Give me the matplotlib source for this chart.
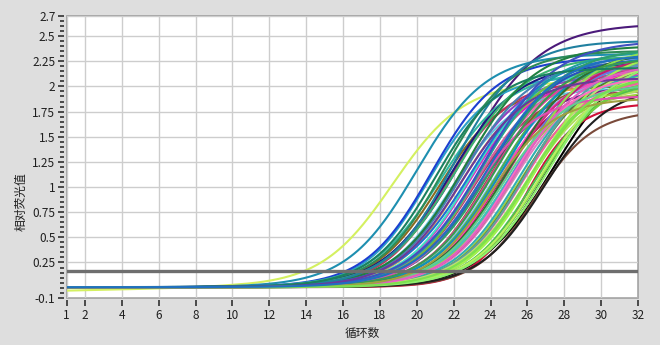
import numpy as np
import matplotlib
matplotlib.use('Agg')
import matplotlib.pyplot as plt
from matplotlib.ticker import MultipleLocator

plt.rcParams['font.family'] = ['Noto Sans CJK SC', 'DejaVu Sans']

# 每条扩增曲线的参数：中点循环数、平台高度、曲线宽度、起始基线
mids = [18.7, 20.0, 22.6, 27.5, 26.9, 25.9, 26.4,
        20.6, 20.8, 21.2, 21.3, 21.5, 21.6, 21.8, 21.9, 22.1, 22.2,
        22.3, 22.5, 22.6, 22.8, 22.9, 23.0, 23.0, 23.2, 23.3, 23.4,
        23.5, 23.6, 23.7, 23.8, 23.9, 24.0, 24.1, 24.1, 24.3, 24.4,
        24.5, 24.6, 24.7, 24.8, 24.9, 25.0, 25.1, 25.2, 25.3, 25.4,
        25.5, 25.6, 25.7, 25.8, 25.9, 26.0, 26.1, 26.2, 26.3, 26.5,
        26.6, 26.7, 26.9, 27.1, 22.0, 23.1, 24.2, 25.0, 23.6, 24.6,
        21.0, 22.4, 25.3, 24.0, 26.0, 23.8]
tops = [2.05, 2.32, 2.62, 2.42, 2.2, 1.83, 1.76,
        2.1, 2.28, 2.0, 2.15, 2.35, 2.05, 2.22, 1.98, 2.3, 2.12,
        2.02, 2.25, 2.4, 2.08, 2.18, 1.95, 2.3, 2.1, 2.22, 2.0,
        2.35, 2.15, 2.05, 2.28, 1.92, 2.2, 2.38, 2.1, 2.0, 2.25,
        2.15, 2.3, 1.98, 2.2, 2.1, 2.35, 2.05, 2.25, 1.95, 2.3,
        2.15, 2.4, 2.08, 2.2, 2.0, 2.3, 2.12, 2.25, 2.05, 2.35,
        2.1, 2.2, 2.0, 2.3, 2.45, 1.9, 2.28, 2.1, 2.45, 2.02,
        2.18, 2.08, 2.22, 1.88, 2.12, 2.32]
widths = [1.95, 1.9, 2.05, 2.05, 1.8, 1.4, 1.6,
          1.7, 1.8, 1.75, 1.9, 1.8, 1.7, 1.85, 1.75, 1.9, 1.8,
          1.7, 1.85, 1.9, 1.75, 1.8, 1.7, 1.95, 1.8, 1.75, 1.85,
          1.9, 1.8, 1.7, 1.85, 1.75, 1.8, 1.95, 1.8, 1.7, 1.85,
          1.8, 1.9, 1.75, 1.8, 1.85, 1.9, 1.75, 1.8, 1.7, 1.85,
          1.8, 1.95, 1.75, 1.8, 1.7, 1.85, 1.8, 1.9, 1.75, 1.85,
          1.8, 1.85, 1.75, 1.9, 1.8, 1.7, 1.85, 1.75, 1.95, 1.8,
          1.75, 1.8, 1.85, 1.7, 1.8, 1.9]
colors = ['#d4f060', '#1e8fb0', '#4b1a7a', '#000000', '#151515', '#d0103a', '#7a4a3a',
          '#2aa0c8', '#1c3fd0', '#8a6a20', '#30b8a0', '#2e8b57', '#c03060', '#1a1a80', '#60c8e0', '#3cb371', '#9040c0',
          '#e0a040', '#4682b4', '#208040', '#e020c0', '#40e0c0', '#a04060', '#1f70d0', '#d060a0', '#70c040', '#5a2a8a',
          '#20a0a0', '#f070b0', '#8b5a2b', '#2850c0', '#c0b060', '#e040a0', '#2e9e6e', '#80c0f0', '#b01050', '#50b050',
          '#ff40c0', '#1090c0', '#9acd32', '#d03080', '#40c0c0', '#307030', '#e080c0', '#6080e0', '#a0d040', '#c02070',
          '#30b0b0', '#90e050', '#f060a0', '#508030', '#b0e060', '#60a0a0', '#80e040', '#c0e070', '#50c050', '#a0f050',
          '#70d040', '#b8f060', '#202020', '#90f070', '#2080a0', '#e050b0', '#3a9a50', '#ff70c0', '#4050c0', '#60d090',
          '#1a8060', '#6a3a9a', '#e060c0', '#a0a040', '#7ce050', '#2070c0']
bases = [-0.03] + [0.005] * (len(mids) - 1)

# 阈值线
threshold = 0.17

yticks = [-0.1, 0.25, 0.5, 0.75, 1, 1.25, 1.5, 1.75, 2, 2.25, 2.5, 2.7]
ylabels = ['-0.1', '0.25', '0.5', '0.75', '1', '1.25', '1.5', '1.75', '2', '2.25', '2.5', '2.7']
xticks = [1, 2, 4, 6, 8, 10, 12, 14, 16, 18, 20, 22, 24, 26, 28, 30, 32]

fig = plt.figure(figsize=(6.6, 3.45), dpi=100, facecolor='#dedede')
ax = fig.add_axes([66.5 / 660, (345 - 297.7) / 345, (638 - 66.5) / 660, (297.7 - 16) / 345])
ax.set_facecolor('white')
ax.patch.set_edgecolor('#a0a0a0')
ax.patch.set_linewidth(1.2)

x = np.linspace(1, 32, 311)
for mid, top, w, c, b in zip(mids, tops, widths, colors, bases):
    drift = b + (0.005 - b) * np.clip((x - 1) / 9, 0, 1)
    y = drift + top / (1 + np.exp(-(x - mid) / w))
    ax.plot(x, y, color=c, linewidth=1.5, solid_capstyle='butt')

ax.axhline(threshold, color='#6e6e6e', linewidth=2.4, zorder=5)

ax.set_xlim(1, 32)
ax.set_ylim(-0.1, 2.7)
ax.set_xticks(xticks)
ax.set_yticks(yticks)
ax.set_yticklabels(ylabels)
ax.yaxis.set_minor_locator(MultipleLocator(0.05))
ax.grid(True, color='#cdcdcd', linewidth=1.0)
ax.set_axisbelow(True)

for side in ['top', 'right']:
    ax.spines[side].set_visible(False)
for side in ['left', 'bottom']:
    ax.spines[side].set_position(('outward', 2))
    ax.spines[side].set_color('none')

ax.tick_params(axis='both', which='major', direction='out', length=4, width=1.2,
               color='#303030', labelsize=8.5, labelcolor='#202020', pad=2)
ax.tick_params(axis='y', which='minor', direction='out', length=3, width=1.2, color='#303030')

ax.set_xlabel('循环数', fontsize=8.5, color='#202020')
ax.set_ylabel('相对荧光值', fontsize=8.5, color='#202020')
ax.xaxis.set_label_coords(0.517, -0.104)
ax.yaxis.set_label_coords(-0.079, 0.341)
ax.xaxis.label.set_va('top')
ax.yaxis.label.set_va('center')

fig.savefig('out.png', dpi=100, facecolor=fig.get_facecolor())
